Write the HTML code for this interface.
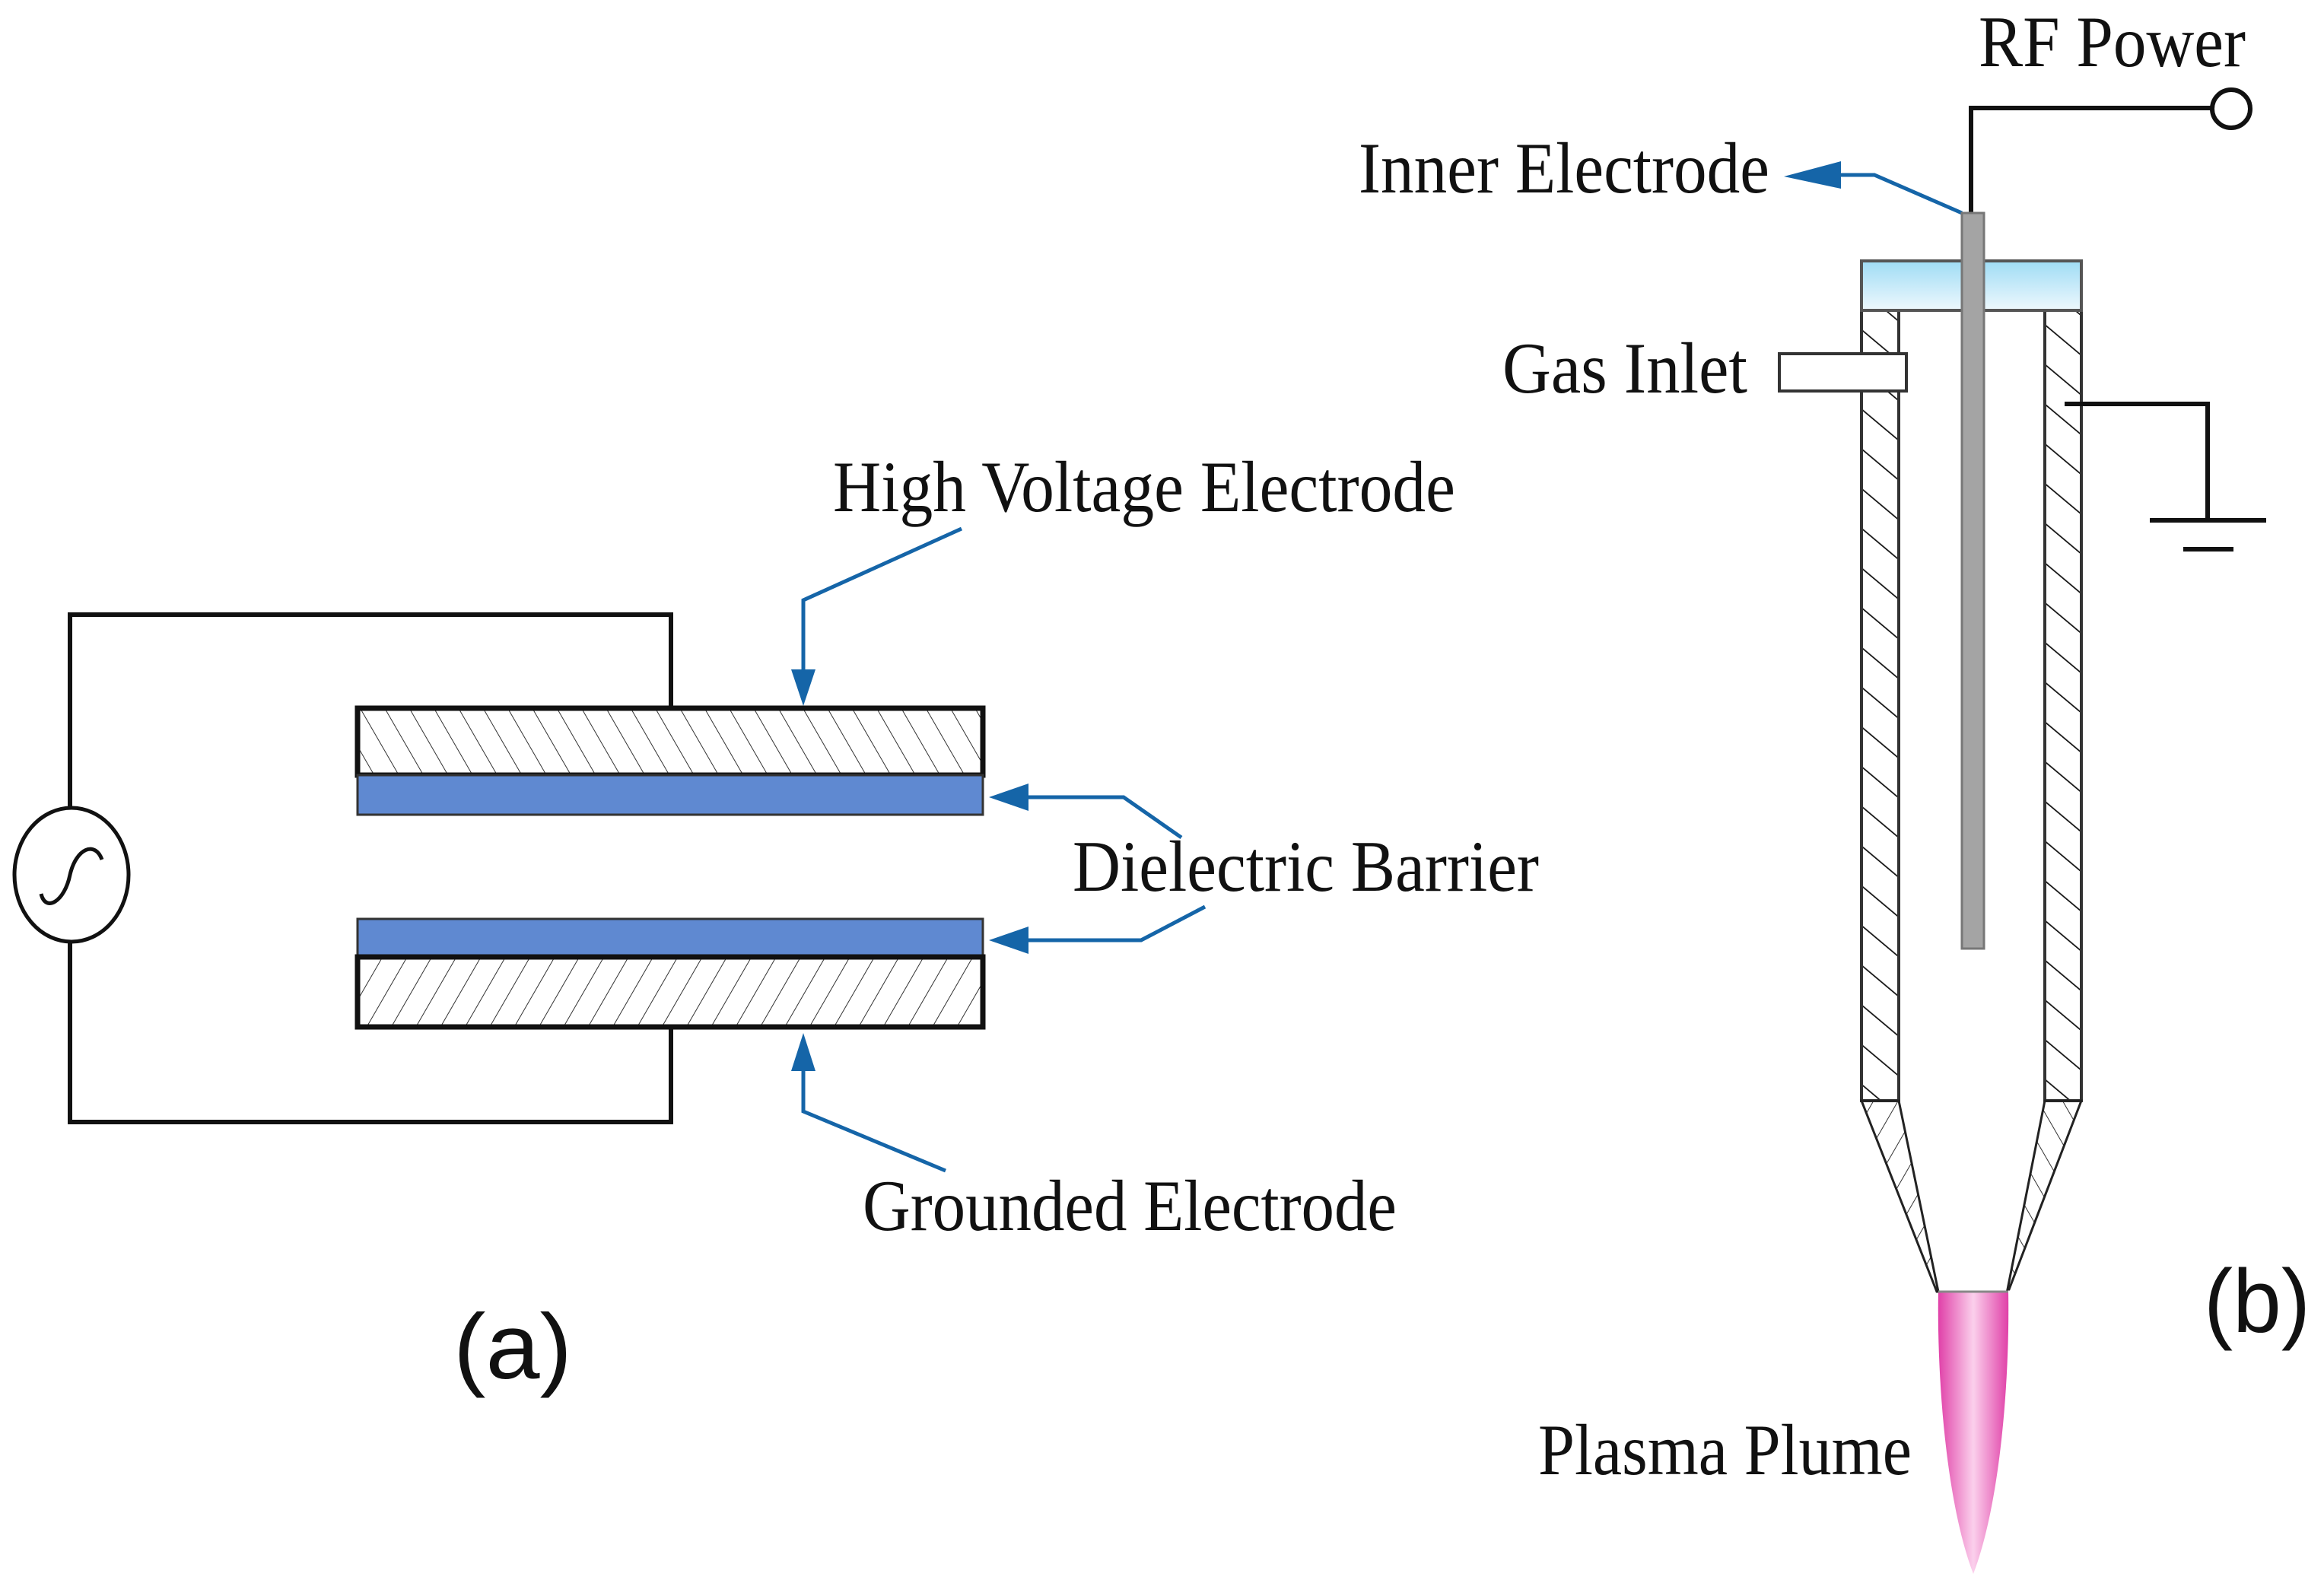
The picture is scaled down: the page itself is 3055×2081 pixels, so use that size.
<!DOCTYPE html>
<html><head><meta charset="utf-8"><style>
html,body{margin:0;padding:0;background:#fff;}
svg{display:block;}
text{font-family:"Liberation Serif",serif;fill:#111;}
.s{font-family:"Liberation Sans",sans-serif;}
</style></head><body>
<svg width="3055" height="2081" viewBox="0 0 3055 2081" xmlns="http://www.w3.org/2000/svg">
<defs>
<pattern id="hb" width="28" height="28" patternUnits="userSpaceOnUse" patternTransform="rotate(30)">
<line x1="0" y1="0" x2="0" y2="28" stroke="#333" stroke-width="2"/></pattern>
<pattern id="hf" width="28" height="28" patternUnits="userSpaceOnUse" patternTransform="rotate(-30)">
<line x1="0" y1="0" x2="0" y2="28" stroke="#333" stroke-width="2"/></pattern>
<pattern id="hw" width="40" height="40" patternUnits="userSpaceOnUse" patternTransform="rotate(-50)">
<line x1="0" y1="0" x2="0" y2="40" stroke="#111" stroke-width="3.5"/></pattern>
<linearGradient id="lid" x1="0" y1="0" x2="0" y2="1"><stop offset="0" stop-color="#9fdcf5"/><stop offset="1" stop-color="#eef8fd"/></linearGradient>
<linearGradient id="pl" x1="0" y1="0" x2="1" y2="0"><stop offset="0" stop-color="#e040a8"/><stop offset="0.5" stop-color="#fbd0ec"/><stop offset="1" stop-color="#e040a8"/></linearGradient>
</defs>

<polyline points="882,931 882,808 92,808 92,1063" fill="none" stroke="#111" stroke-width="6"/>
<polyline points="882,1350 882,1475 92,1475 92,1237" fill="none" stroke="#111" stroke-width="6"/>
<ellipse cx="94" cy="1150" rx="75" ry="88" fill="#fff" stroke="#111" stroke-width="5"/>
<path d="M54,1175 C60,1200 85,1185 92,1150 C100,1115 125,1105 134,1130" fill="none" stroke="#111" stroke-width="5"/>

<rect x="470" y="931" width="822" height="88" fill="url(#hf)" stroke="#111" stroke-width="7"/>
<rect x="470" y="1019" width="822" height="52" fill="#5f89d1" stroke="#333" stroke-width="3"/>
<rect x="470" y="1208" width="822" height="50" fill="#5f89d1" stroke="#333" stroke-width="3"/>
<rect x="470" y="1258" width="822" height="92" fill="url(#hb)" stroke="#111" stroke-width="7"/>

<g stroke="#1565a8" stroke-width="5" fill="none">
<polyline points="1264,695 1056,789 1056,880"/>
<polyline points="1553,1101 1477,1048 1350,1048"/>
<polyline points="1584,1192 1500,1236 1350,1236"/>
<polyline points="1243,1539 1056,1461 1056,1405"/>
<polyline points="2579,280 2464,230 2400,230"/>
</g>
<g fill="#1565a8">
<polygon points="1056,928 1040,880 1072,880"/>
<polygon points="1300,1048 1352,1030 1352,1066"/>
<polygon points="1300,1236 1352,1218 1352,1254"/>
<polygon points="1056,1358 1040,1408 1072,1408"/>
<polygon points="2345,232 2420,212 2420,248"/>
</g>

<text x="1095" y="672" font-size="95" textLength="818" lengthAdjust="spacingAndGlyphs">High Voltage Electrode</text>
<text x="1410" y="1171" font-size="95" textLength="613" lengthAdjust="spacingAndGlyphs">Dielectric Barrier</text>
<text x="1134" y="1617" font-size="95" textLength="702" lengthAdjust="spacingAndGlyphs">Grounded Electrode</text>
<text class="s" x="596" y="1812" font-size="122" textLength="156" lengthAdjust="spacingAndGlyphs">(a)</text>

<text x="2601" y="87" font-size="95" textLength="351" lengthAdjust="spacingAndGlyphs">RF Power</text>
<polyline points="2591,280 2591,142 2906,142" fill="none" stroke="#111" stroke-width="6"/>
<circle cx="2933" cy="143" r="25" fill="#fff" stroke="#111" stroke-width="6"/>
<text x="1786" y="253" font-size="95" textLength="540" lengthAdjust="spacingAndGlyphs">Inner Electrode</text>
<text x="1975" y="516" font-size="95" textLength="322" lengthAdjust="spacingAndGlyphs">Gas Inlet</text>
<text x="2022" y="1938" font-size="95" textLength="491" lengthAdjust="spacingAndGlyphs">Plasma Plume</text>
<text class="s" x="2897" y="1751" font-size="118" textLength="140" lengthAdjust="spacingAndGlyphs">(b)</text>

<rect x="2447" y="408" width="49" height="1039" fill="url(#hw)" stroke="#333" stroke-width="4"/>
<rect x="2688" y="408" width="48" height="1039" fill="url(#hw)" stroke="#333" stroke-width="4"/>
<polygon points="2447,1447 2496,1447 2548,1698 2546,1698" fill="url(#hb)" stroke="#222" stroke-width="3"/>
<polygon points="2688,1447 2736,1447 2641,1695 2639,1695" fill="url(#hf)" stroke="#222" stroke-width="3"/>
<rect x="2447" y="343" width="289" height="65" fill="url(#lid)" stroke="#555" stroke-width="4"/>
<rect x="2339" y="465" width="167" height="49" fill="#fff" stroke="#333" stroke-width="4"/>
<rect x="2579" y="280" width="29" height="967" fill="#a4a4a4" stroke="#777" stroke-width="3"/>

<polyline points="2714,531 2902,531 2902,684" fill="none" stroke="#111" stroke-width="6"/>
<line x1="2826" y1="684" x2="2979" y2="684" stroke="#111" stroke-width="6"/>
<line x1="2870" y1="722" x2="2936" y2="722" stroke="#111" stroke-width="6"/>

<path d="M2548,1698 L2640,1698 C2642,1810 2630,1975 2594,2069 C2558,1975 2546,1810 2548,1698 Z" fill="url(#pl)"/>
<line x1="2548" y1="1698" x2="2640" y2="1698" stroke="#888" stroke-width="3"/>
</svg>
</body></html>
